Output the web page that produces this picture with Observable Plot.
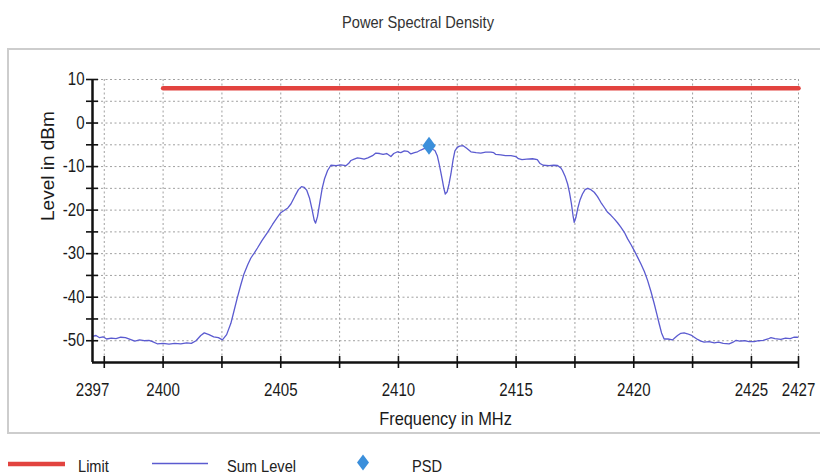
<!DOCTYPE html>
<html><head><meta charset="utf-8">
<script src="https://cdn.jsdelivr.net/npm/d3@7"></script>
<script src="https://cdn.jsdelivr.net/npm/@observablehq/plot@0.6"></script>
<style>
html,body{margin:0;padding:0;background:#fff;}
body{width:820px;height:474px;position:relative;overflow:hidden;color:#222;}
#title{position:absolute;top:13px;left:418px;transform:translateX(-50%) scaleX(0.86);white-space:nowrap;color:#333;line-height:1;}
#frame{position:absolute;left:7px;top:48px;width:900px;height:382px;border:2px solid #cdcdcd;}
#chart{position:absolute;left:0;top:49px;}
#legend{position:absolute;left:0;top:440px;}
</style></head>
<body>
<div id="title"></div>
<div id="frame"></div>
<div id="chart"></div>
<div id="legend"></div>
<script>
// ---------- data ----------
const xDomain = [2397, 2427];
const yDomain = [-55, 10];
const xTickMarks = [2397.5, 2400, 2402.5, 2405, 2407.5, 2410, 2412.5, 2415, 2417.5, 2420, 2422.5, 2425, 2427];
const xTickLabels = [2397, 2400, 2405, 2410, 2415, 2420, 2425, 2427];
const yTickMarks = [-50, -45, -40, -35, -30, -25, -20, -15, -10, -5, 0, 5, 10];
const yTickLabels = [-50, -40, -30, -20, -10, 0, 10];

const freq = [
2397.00,2397.15,2397.30,2397.45,2397.60,2397.80,2398.00,2398.20,2398.40,2398.60,2398.80,2399.00,2399.20,2399.40,2399.55,2399.75,
2400.00,2400.25,2400.50,2400.75,2401.00,2401.20,2401.40,2401.60,2401.75,2401.95,2402.15,2402.35,2402.52,2402.70,2402.88,2403.02,
2403.16,2403.30,2403.44,2403.60,2403.73,2403.88,2404.01,2404.20,2404.44,2404.65,2404.86,2405.00,2405.14,2405.30,2405.43,2405.60,
2405.75,2405.88,2406.00,2406.10,2406.22,2406.32,2406.42,2406.48,2406.56,2406.66,2406.76,2406.86,2406.99,2407.13,2407.35,2407.55,
2407.77,2407.90,2407.98,2408.12,2408.26,2408.40,2408.54,2408.70,2408.90,2409.04,2409.20,2409.35,2409.50,2409.68,2409.80,2409.96,
2410.10,2410.25,2410.39,2410.53,2410.68,2410.81,2410.95,2411.09,2411.25,2411.40,2411.55,2411.65,2411.73,2411.80,2411.87,2411.93,
2411.99,2412.07,2412.15,2412.23,2412.32,2412.40,2412.50,2412.60,2412.75,2412.90,2413.08,2413.30,2413.50,2413.70,2413.93,2414.05,
2414.14,2414.35,2414.55,2414.78,2414.99,2415.10,2415.25,2415.45,2415.70,2415.90,2416.02,2416.15,2416.40,2416.60,2416.76,2416.90,
2416.97,2417.08,2417.19,2417.27,2417.35,2417.42,2417.47,2417.54,2417.62,2417.72,2417.82,2417.93,2418.04,2418.18,2418.32,2418.46,
2418.60,2418.75,2418.89,2419.03,2419.17,2419.31,2419.45,2419.60,2419.74,2419.88,2420.02,2420.16,2420.30,2420.45,2420.59,2420.73,
2420.87,2420.98,2421.08,2421.18,2421.29,2421.45,2421.65,2421.75,2421.86,2422.00,2422.14,2422.28,2422.43,2422.57,2422.71,2422.85,
2422.99,2423.20,2423.42,2423.60,2423.80,2424.05,2424.20,2424.35,2424.50,2424.70,2424.90,2425.12,2425.30,2425.50,2425.70,2425.83,
2426.00,2426.25,2426.45,2426.65,2426.80,2426.96
];
const level = [
-49.0,-48.8,-49.3,-49.1,-49.6,-49.4,-49.5,-49.2,-49.3,-49.7,-50.1,-49.8,-50.0,-49.9,-50.2,-50.7,
-50.6,-50.8,-50.6,-50.7,-50.5,-50.6,-50.0,-48.8,-48.2,-48.6,-49.1,-49.3,-49.8,-48.6,-46.0,-43.0,
-40.0,-37.2,-34.6,-32.5,-31.0,-29.8,-28.7,-27.0,-25.1,-23.3,-21.6,-20.6,-20.1,-19.5,-18.6,-16.8,
-15.3,-14.6,-14.8,-15.4,-17.2,-19.6,-22.3,-23.0,-21.5,-18.2,-15.0,-12.8,-10.9,-9.7,-9.8,-9.6,
-9.8,-9.2,-8.6,-8.3,-8.0,-8.1,-8.3,-8.0,-7.5,-6.9,-7.0,-7.2,-7.0,-7.7,-7.0,-6.6,
-6.8,-6.4,-6.5,-7.1,-6.8,-6.6,-6.2,-5.9,-5.7,-5.9,-6.3,-7.5,-9.4,-11.3,-13.2,-15.0,
-16.3,-15.8,-14.0,-11.7,-8.5,-6.4,-5.6,-5.3,-5.2,-5.8,-6.6,-6.8,-6.9,-6.7,-6.7,-6.8,
-7.2,-7.3,-7.5,-7.5,-7.7,-8.2,-8.4,-8.3,-8.2,-8.4,-9.3,-9.7,-9.8,-9.7,-9.75,-10.3,
-10.9,-12.2,-14.0,-16.0,-18.5,-21.3,-22.8,-21.7,-19.6,-17.6,-16.3,-15.3,-15.0,-15.3,-15.9,-16.9,
-18.2,-19.4,-20.5,-21.2,-22.0,-22.9,-23.9,-25.1,-26.6,-27.9,-29.3,-30.8,-32.3,-34.1,-36.2,-38.7,
-41.5,-43.9,-46.1,-48.2,-49.6,-49.6,-49.8,-49.3,-48.8,-48.3,-48.2,-48.4,-48.7,-49.2,-49.7,-50.1,
-50.3,-50.2,-50.5,-50.3,-50.6,-50.7,-50.4,-49.9,-50.1,-50.0,-50.2,-50.2,-50.0,-49.9,-49.6,-49.3,
-49.5,-49.7,-49.4,-49.5,-49.2,-49.2
];
const limitFreq = [2400, 2427];
const limitLevel = [8, 8];
const psdFreq = [2411.3];
const psdLevel = [-5.2];
const legendLabels = ["Limit", "Sum Level", "PSD"];
const titleText = "Power Spectral Density";
const xLabel = "Frequency in MHz";
const yLabel = "Level in dBm";

// ---------- fonts ----------
const FONT = "'Liberation Sans', Arial, sans-serif";
const SQ = 0.86; // horizontal squeeze of the reference's lettering
const fsTick = 17.5, fsTitle = 17, fsAx = 19, fsLeg = 17, fsYLab = 19;

const titleEl = document.getElementById("title");
titleEl.textContent = titleText;
titleEl.style.fontFamily = FONT;
titleEl.style.fontSize = fsTitle + "px";
titleEl.style.top = (22 - 0.49 * fsTitle) + "px";

// ---------- chart ----------
const sum = freq.map((f, i) => ({f, v: level[i]}));
const lim = limitFreq.map((f, i) => ({f, v: limitLevel[i]}));
const psd = psdFreq.map((f, i) => ({f, v: psdLevel[i]}));

const diamond = {
  draw(context, size) {
    const r = Math.sqrt(size / Math.PI);
    const h = r * 1.6, w = h * 0.74;
    context.moveTo(0, -h); context.lineTo(w, 0); context.lineTo(0, h); context.lineTo(-w, 0); context.closePath();
  }
};
const gridStyle = {stroke: "#a0a0a0", strokeOpacity: 1, strokeWidth: 1, strokeDasharray: "2,2.5"};

const plot = Plot.plot({
  width: 820, height: 384,
  marginTop: 30, marginBottom: 71, marginLeft: 92, marginRight: 22,
  x: {domain: xDomain, label: null},
  y: {domain: yDomain, label: null},
  style: {fontFamily: FONT, fontSize: fsTick + "px", color: "#1a1a1a", background: "transparent", overflow: "visible"},
  marks: [
    Plot.gridX(xTickMarks, gridStyle),
    Plot.gridY(yTickMarks, gridStyle),
    Plot.line(lim, {x: "f", y: "v", stroke: "#e2433f", strokeWidth: 4.5}),
    Plot.line(sum, {x: "f", y: "v", stroke: "#5b5bd0", strokeWidth: 1.3}),
    Plot.dot(psd, {x: "f", y: "v", symbol: diamond, r: 5.6, fill: "#3b8fdb", stroke: "none"}),
    Plot.ruleY([yDomain[0]], {stroke: "#111", strokeWidth: 2.5}),
    Plot.ruleX([xDomain[0]], {stroke: "#111", strokeWidth: 2.5}),
    Plot.axisX(xTickMarks, {tickSize: 12, dy: -6, tickFormat: () => "", stroke: "#111", strokeWidth: 1.6, label: null}),
    Plot.axisX(xTickLabels, {tickSize: 0, tickPadding: 21, tickFormat: d => String(d), label: null}),
    Plot.axisY(yTickMarks, {tickSize: 12, dx: 6, tickFormat: () => "", stroke: "#111", strokeWidth: 1.6, label: null}),
    Plot.axisY(yTickLabels, {tickSize: 0, tickPadding: 8, tickFormat: d => String(d), label: null}),
    Plot.text([xLabel], {text: d => d, frameAnchor: "bottom", dy: 56, fontSize: fsAx, lineAnchor: "middle"}),
    Plot.text([yLabel], {text: d => d, frameAnchor: "left", dx: -45, rotate: -90, fontSize: fsYLab, lineAnchor: "middle"})
  ]
});
document.getElementById("chart").appendChild(plot);
// squeeze horizontal lettering like the reference (positions untouched)
plot.querySelectorAll("text").forEach(t => {
  const s = t.textContent;
  if (!s || s === yLabel) return;
  const w = t.getComputedTextLength();
  if (w > 0) {
    t.setAttribute("textLength", (w * SQ).toFixed(2));
    t.setAttribute("lengthAdjust", "spacingAndGlyphs");
  }
});

// ---------- legend ----------
const leg = d3.select("#legend").append("svg").attr("width", 820).attr("height", 34);
const ly = 24;
leg.append("line").attr("x1", 8).attr("x2", 65).attr("y1", ly).attr("y2", ly).attr("stroke", "#e2433f").attr("stroke-width", 4.5);
leg.append("line").attr("x1", 152).attr("x2", 208).attr("y1", ly - 0.5).attr("y2", ly - 0.5).attr("stroke", "#5b5bd0").attr("stroke-width", 1.5);
leg.append("path").attr("d", "M363,14.5L369,22.5L363,30.5L357,22.5Z").attr("fill", "#3b8fdb");
const lx = [78, 227, 412];
legendLabels.forEach((t, i) => {
  leg.append("text").attr("transform", `translate(${lx[i]},25.5) scale(${SQ},1)`).attr("dy", "0.36em")
    .attr("font-family", FONT).attr("font-size", fsLeg).attr("fill", "#222").text(t);
});
</script>
</body></html>
